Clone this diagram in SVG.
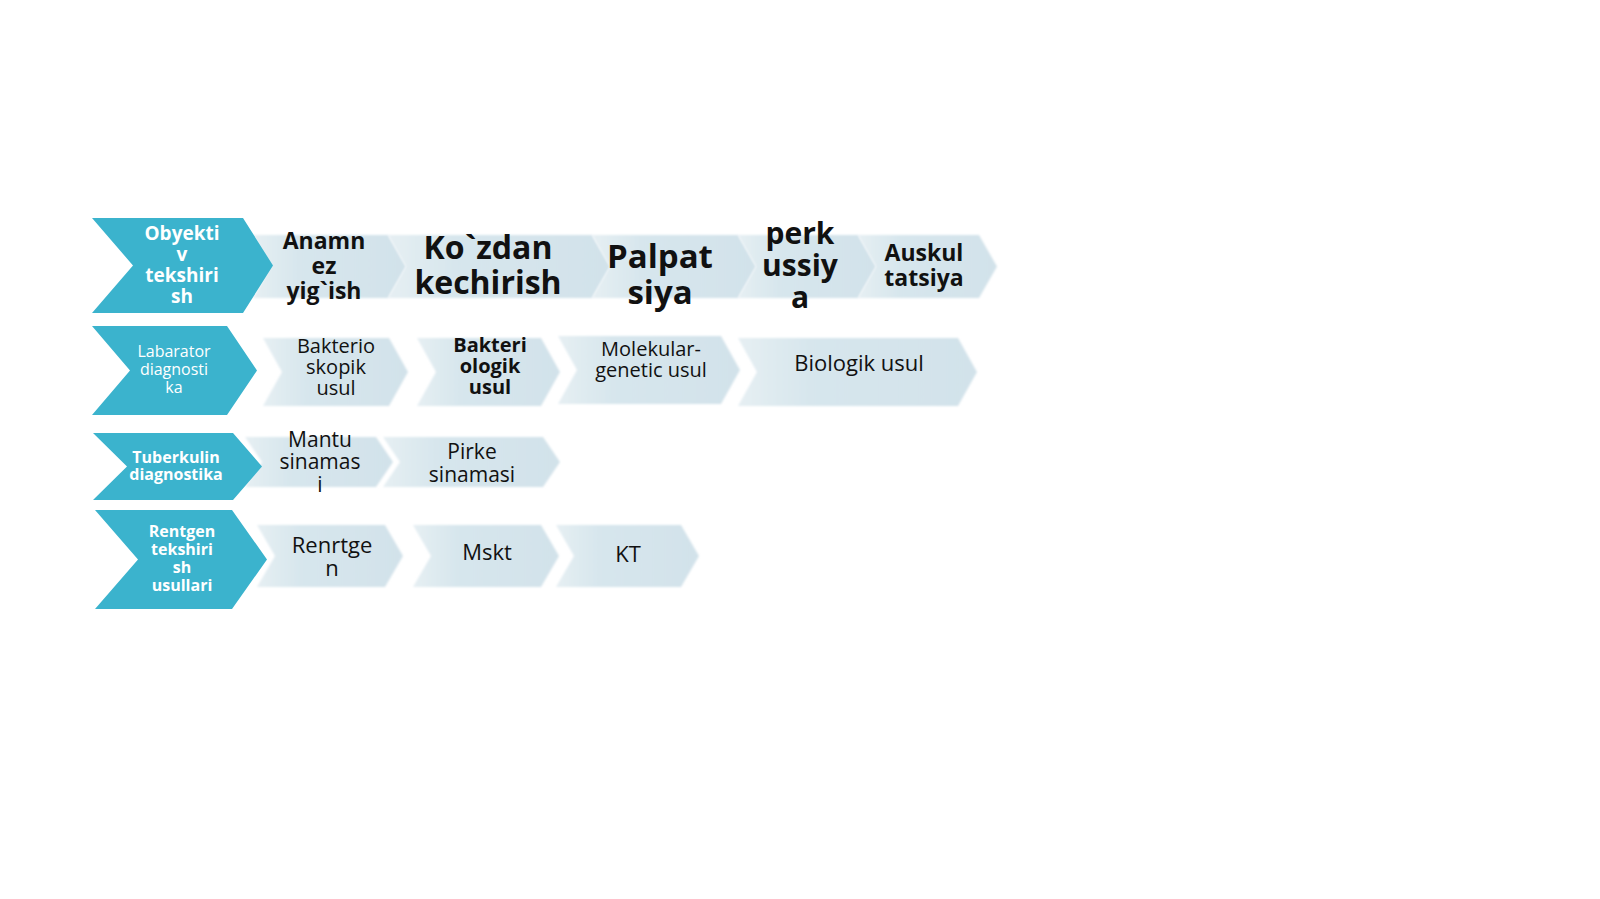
<svg xmlns="http://www.w3.org/2000/svg" width="1600" height="899" viewBox="0 0 1600 899">
<defs>
<linearGradient id="lg" x1="0" y1="0" x2="1" y2="0">
<stop offset="0" stop-color="#E6EFF3"/>
<stop offset="0.3" stop-color="#D7E6ED"/>
<stop offset="1" stop-color="#D2E2EA"/>
</linearGradient>
<filter id="soft" x="-5%" y="-10%" width="110%" height="120%">
<feGaussianBlur stdDeviation="1.3"/>
</filter>
<style>
.head{fill:#3BB3CD;}
.light{fill:url(#lg);filter:url(#soft);}
text{font-family:"Open Sans","Noto Sans","DejaVu Sans",sans-serif;text-anchor:middle;fill:#111;}
.hw{fill:#FFFFFF;}
.b{font-weight:700;}
</style>
</defs>
<rect width="1600" height="899" fill="#FFFFFF"/>
<g id="connectors"/>

<!-- Row 1 -->
<g id="r1-anamnez"><polygon class="light" points="253,235 388,235 406,266.5 388,298 253,298 271,266.5"/>
<text class="b" font-size="23"><tspan x="324" y="249">Anamn</tspan><tspan x="324" y="274">ez</tspan><tspan x="324" y="299">yig`ish</tspan></text></g>
<g id="r1-kozdan"><polygon class="light" points="388,235 592,235 610,266.5 592,298 388,298 406,266.5"/>
<text class="b" font-size="32"><tspan x="488" y="259">Ko`zdan</tspan><tspan x="488" y="294">kechirish</tspan></text></g>
<g id="r1-palpat"><polygon class="light" points="592,235 738,235 756,266.5 738,298 592,298 610,266.5"/>
<text class="b" font-size="33"><tspan x="660" y="268">Palpat</tspan><tspan x="660" y="304">siya</tspan></text></g>
<g id="r1-perk"><polygon class="light" points="738,235 858,235 876,266.5 858,298 738,298 756,266.5"/>
<text class="b" font-size="30"><tspan x="800" y="244">perk</tspan><tspan x="800" y="276">ussiy</tspan><tspan x="800" y="308">a</tspan></text></g>
<g id="r1-auskul"><polygon class="light" points="858,235 979,235 997,266.5 979,298 858,298 876,266.5"/>
<text class="b" font-size="23"><tspan x="924" y="261">Auskul</tspan><tspan x="924" y="286">tatsiya</tspan></text></g>
<g id="r1-head"><polygon class="head" points="92,218 243,218 273,265.5 243,313 92,313 133,265.5"/>
<text class="b hw" font-size="19"><tspan x="182" y="240">Obyekti</tspan><tspan x="182" y="261">v</tspan><tspan x="182" y="282">tekshiri</tspan><tspan x="182" y="303">sh</tspan></text></g>

<!-- Row 2 -->
<g id="r2-bakterioskopik"><polygon class="light" points="263,338 389,338 408,372 389,406 263,406 282,372"/>
<text font-size="20"><tspan x="336" y="353">Bakterio</tspan><tspan x="336" y="374">skopik</tspan><tspan x="336" y="395">usul</tspan></text></g>
<g id="r2-bakteriologik"><polygon class="light" points="417,338 541,338 560,372 541,406 417,406 436,372"/>
<text class="b" font-size="20"><tspan x="490" y="352">Bakteri</tspan><tspan x="490" y="373">ologik</tspan><tspan x="490" y="394">usul</tspan></text></g>
<g id="r2-molekular"><polygon class="light" points="558,336 721,336 740,370 721,404 558,404 577,370"/>
<text font-size="20"><tspan x="651" y="356">Molekular-</tspan><tspan x="651" y="377">genetic usul</tspan></text></g>
<g id="r2-biologik"><polygon class="light" points="738,338 958,338 977,372 958,406 738,406 757,372"/>
<text font-size="22"><tspan x="859" y="371">Biologik usul</tspan></text></g>
<g id="r2-head"><polygon class="head" points="92,326 227,326 257,370.5 227,415 92,415 130,370.5"/>
<text class="hw" font-size="16"><tspan x="174" y="357">Labarator</tspan><tspan x="174" y="375">diagnosti</tspan><tspan x="174" y="393">ka</tspan></text></g>

<!-- Row 3 -->
<g id="r3-mantu"><polygon class="light" points="245,437 376,437 393,462 376,487 245,487 262,462"/>
<text font-size="21"><tspan x="320" y="447">Mantu</tspan><tspan x="320" y="469">sinamas</tspan><tspan x="320" y="492">i</tspan></text></g>
<g id="r3-pirke"><polygon class="light" points="383,437 543,437 560,462 543,487 383,487 400,462"/>
<text font-size="21"><tspan x="472" y="459">Pirke</tspan><tspan x="472" y="482">sinamasi</tspan></text></g>
<g id="r3-head"><polygon class="head" points="93,433 233,433 262,466.5 233,500 93,500 127,466.5"/>
<text class="b hw" font-size="16"><tspan x="176" y="463">Tuberkulin</tspan><tspan x="176" y="480">diagnostika</tspan></text></g>

<!-- Row 4 -->
<g id="r4-renrtgen"><polygon class="light" points="257,525 385,525 403,556 385,587 257,587 275,556"/>
<text font-size="22"><tspan x="332" y="553">Renrtge</tspan><tspan x="332" y="576">n</tspan></text></g>
<g id="r4-mskt"><polygon class="light" points="413,525 541,525 559,556 541,587 413,587 431,556"/>
<text font-size="22"><tspan x="487" y="560">Mskt</tspan></text></g>
<g id="r4-kt"><polygon class="light" points="556,525 681,525 699,556 681,587 556,587 574,556"/>
<text font-size="22"><tspan x="628" y="562">KT</tspan></text></g>
<g id="r4-head"><polygon class="head" points="95,510 232,510 267,559.5 232,609 95,609 138,559.5"/>
<text class="b hw" font-size="16"><tspan x="182" y="537">Rentgen</tspan><tspan x="182" y="555">tekshiri</tspan><tspan x="182" y="573">sh</tspan><tspan x="182" y="591">usullari</tspan></text></g>
</svg>
